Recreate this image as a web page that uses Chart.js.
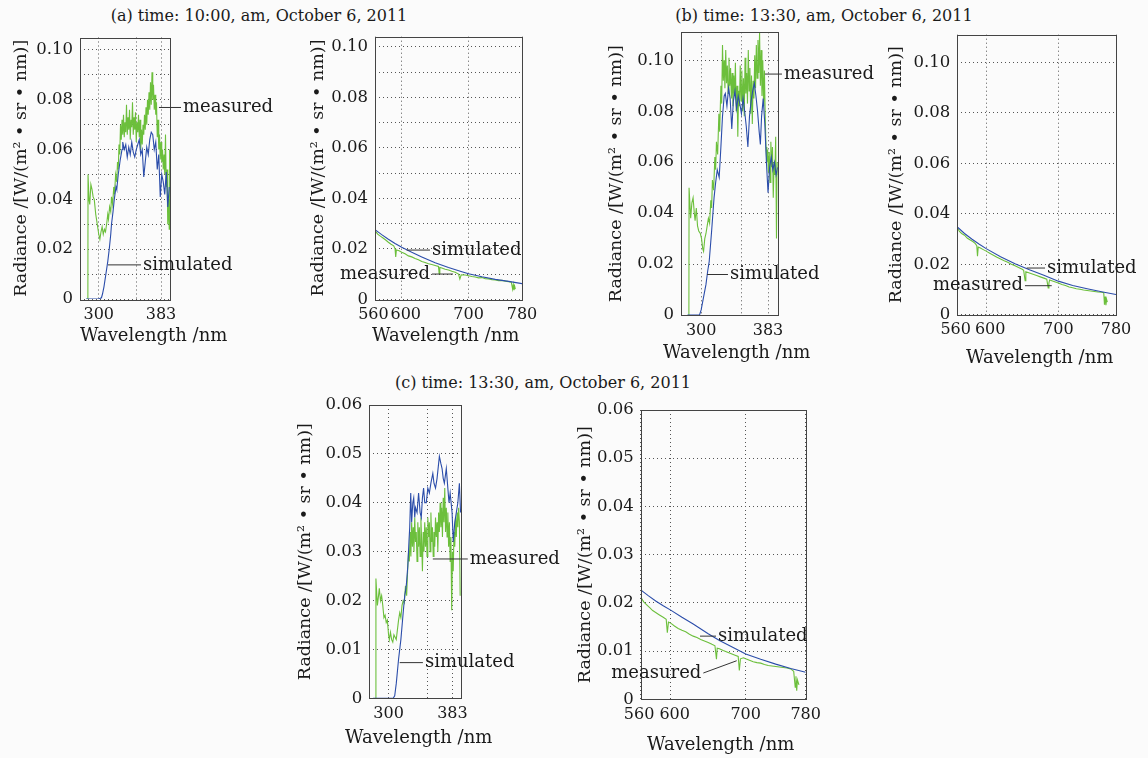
<!DOCTYPE html>
<html>
<head>
<meta charset="utf-8">
<script src="https://cdn.jsdelivr.net/npm/chart.js@4.4.0/dist/chart.umd.min.js"></script>
<style>
  body { margin: 0; width: 1148px; height: 758px; position: relative; overflow: hidden; background: #fbfbfb; font-family: 'DejaVu Serif', serif; color: #1a1a1a; }
  .title { position: absolute; font-size: 16px; white-space: nowrap; transform: translate(-50%, -50%); }
  canvas { position: absolute; }
</style>
</head>
<body>
<div class="title" style="left:259px;top:15px">(a) time: 10:00, am, October 6, 2011</div>
<div class="title" style="left:824px;top:15px">(b) time: 13:30, am, October 6, 2011</div>
<div class="title" style="left:543px;top:382px">(c) time: 13:30, am, October 6, 2011</div>
<canvas id="aL"></canvas>
<canvas id="aR"></canvas>
<canvas id="bL"></canvas>
<canvas id="bR"></canvas>
<canvas id="cL"></canvas>
<canvas id="cR"></canvas>
<script>
// ---- axes ----
const uvTicks = [300, 350, 383];
const uvTickLabels = ['300', '', '383'];
const visTicks = [560, 600, 700, 780];
const visTickLabels = ['560\u2009', '\u2002600', '700', '780'];
const yTicksA = [0, 0.01, 0.02, 0.03, 0.04, 0.05, 0.06, 0.07, 0.08, 0.09, 0.10];
const yLabelsA = ['0', '', '0.02', '', '0.04', '', '0.06', '', '0.08', '', '0.10'];
const yTicksB = [0, 0.02, 0.04, 0.06, 0.08, 0.10];
const yLabelsB = ['0', '0.02', '0.04', '0.06', '0.08', '0.10'];
const yTicksC = [0, 0.01, 0.02, 0.03, 0.04, 0.05, 0.06];
const yLabelsC = ['0', '0.01', '0.02', '0.03', '0.04', '0.05', '0.06'];

// ---- (a) UV ----
const uvA_measWl = [285.5, 285.7, 287, 288, 289.5, 291, 292.5, 294, 296, 298,
  300, 301.5, 303, 304.5, 306, 307.5, 309, 310.5, 312, 313,
  314.5, 316, 317, 318.5, 320, 321, 322.5, 324, 325, 326,
  327, 328, 329, 330, 331, 332, 333, 334, 335, 336,
  337, 338, 339, 340, 341, 342, 343, 344, 345, 346,
  347, 348, 349, 350, 351, 352, 353, 354, 355, 356,
  357, 358, 359, 360, 361, 362, 363, 364, 365, 366,
  367, 368, 369, 370, 371, 372, 373, 374, 375, 376,
  377, 378, 379, 380, 381, 382, 383, 384, 385, 386,
  387, 388, 389, 390, 391, 392, 393, 394, 394.5];
const uvA_meas = [0, .050, .040, .038, .046, .044, .041, .040, .034, .030,
  .026, .024, .027, .029, .026, .028, .027, .030, .034, .032,
  .037, .035, .041, .038, .045, .042, .050, .047, .055, .052,
  .062, .058, .070, .064, .072, .066, .074, .065, .071, .067,
  .078, .066, .073, .068, .076, .064, .072, .069, .079, .066,
  .073, .068, .075, .063, .071, .067, .074, .065, .072, .060,
  .068, .062, .070, .066, .074, .068, .077, .070, .080, .074,
  .083, .076, .087, .078, .091, .080, .086, .076, .082, .074,
  .079, .065, .072, .060, .066, .056, .063, .055, .060, .052,
  .058, .050, .066, .045, .052, .030, .040, .028, .060];
const uvA_simWl = [283, 300, 303.6, 305, 307, 309.5, 312, 314, 316, 317,
  319, 320.7, 323, 324, 326, 328.7, 331, 332, 334, 336,
  338, 340, 342, 344, 346, 348, 350, 352, 354, 356,
  358, 360, 362, 364, 366, 368, 370, 372, 374, 376,
  378, 380, 382, 384, 386, 388, 390, 392, 394];
const uvA_sim = [0, 0, .0005, .002, .005, .010, .015, .020, .026, .030,
  .035, .040, .045, .044, .050, .056, .060, .063, .060, .062,
  .057, .061, .058, .063, .059, .057, .060, .062, .064, .058,
  .060, .049, .055, .061, .058, .064, .067, .066, .060, .063,
  .052, .058, .041, .050, .047, .042, .051, .037, .045];

// ---- (a) VIS ----
const visA_simWl = [560, 570, 580, 590, 600, 615, 630, 650, 670, 690, 700, 720, 740, 760, 780];
const visA_sim = [.0276, .0256, .0238, .0221, .0206, .0186, .0168, .0145, .0126, .0109, .0101, .0089, .0079, .0071, .0062];
const visA_measWl = [560, 564, 568, 572, 576, 580, 584, 588, 590, 591, 592, 596, 600, 605, 610, 615, 620, 625, 630, 635,
  640, 645, 650, 655, 656, 657, 660, 665, 670, 675, 680, 685, 687, 689, 695, 700, 705, 710, 715, 720,
  725, 730, 735, 740, 745, 750, 755, 760, 764, 766, 767, 768, 769, 770];
const visA_meas = [.0272, .0258, .0250, .0243, .0235, .0226, .0218, .0212, .0200, .0168, .0195, .0192, .0186, .0180, .0172, .0168, .0162, .0157, .0150, .0146,
  .0141, .0138, .0134, .0130, .0102, .0126, .0124, .0119, .0116, .0111, .0107, .0100, .0080, .0097, .0096, .0093, .0090, .0088, .0085, .0086,
  .0082, .0081, .0078, .0077, .0074, .0075, .0072, .0070, .0068, .0040, .0058, .0036, .0052, .0040];

// ---- (b) UV ----
const uvB_measWl = [284.8, 285, 287, 288.5, 290, 291.5, 292.5, 294, 295.5, 297,
  299, 300.5, 302, 303, 304.5, 306, 307.5, 309, 310.5, 312,
  313, 314, 315.5, 317, 318, 319, 320.5, 322, 323, 324.5,
  325.5, 326.5, 327.5, 328.5, 329.5, 330.5, 331.5, 332.5, 333.5, 334.5,
  335.5, 336.5, 337.5, 338.5, 339.5, 340.5, 341.5, 342.5, 343.5, 344.5,
  345.5, 346.5, 347.5, 348.5, 349.5, 350.5, 351.5, 352.5, 353.5, 354.5,
  355.5, 356.5, 357.5, 358.5, 359.5, 360.5, 361.5, 362.5, 363.5, 364.5,
  365.5, 366.5, 367.5, 368.5, 369.5, 370.5, 371.5, 372.5, 373.5, 374.5,
  375.5, 376.5, 377.5, 378.5, 379.5, 380.5, 381.5, 382.5, 383.5, 384.5,
  385.5, 386.5, 387.5, 388.5, 389.5, 390.5, 391.5, 392.5, 393.5, 394.5, 395.5];
const uvB_meas = [0, .050, .038, .044, .046, .040, .037, .042, .035, .033,
  .032, .030, .026, .025, .030, .032, .035, .038, .036, .045,
  .042, .053, .049, .062, .057, .068, .063, .079, .072, .090,
  .083, .106, .092, .100, .089, .104, .091, .098, .087, .101,
  .090, .097, .085, .095, .082, .094, .086, .099, .080, .090,
  .070, .088, .082, .098, .084, .096, .080, .093, .078, .101,
  .087, .095, .083, .104, .088, .097, .079, .094, .075, .092,
  .085, .102, .089, .106, .093, .108, .095, .111, .090, .104,
  .086, .100, .082, .096, .078, .066, .060, .065, .056, .064,
  .052, .068, .058, .066, .046, .060, .055, .070, .030, .060, .055];
const uvB_simWl = [283, 298, 300, 303, 306, 308, 310, 313, 316, 318,
  320, 322.4, 324.5, 326.5, 328.6, 330, 332, 334, 336, 338,
  340, 342, 344, 346, 348, 350, 352, 354, 356, 358,
  360, 362, 364, 366, 368, 370, 372, 373.5, 375, 377,
  379, 381, 383, 385, 387, 389, 391, 393, 395];
const uvB_sim = [0, 0, .002, .007, .012, .017, .021, .033, .046, .052,
  .057, .054, .066, .078, .086, .087, .082, .089, .085, .073,
  .084, .088, .081, .086, .083, .079, .085, .080, .074, .066,
  .078, .084, .088, .091, .086, .080, .072, .067, .078, .085,
  .075, .060, .048, .058, .062, .057, .060, .055, .058];

// ---- (b) VIS ----
const visB_simWl = [560, 570, 580, 590, 600, 620, 640, 660, 680, 700, 720, 740, 760, 780];
const visB_sim = [.0348, .0322, .0300, .0280, .0262, .0230, .0202, .0178, .0156, .0133, .0116, .0103, .0091, .0080];
const visB_measWl = [560, 563, 566, 570, 574, 578, 582, 585, 587, 588, 589, 592, 596, 600, 605, 610, 615, 620, 625, 630,
  635, 640, 645, 650, 652, 654, 655, 660, 665, 670, 675, 680, 684, 686, 687, 688, 692, 696, 700, 705,
  710, 715, 720, 725, 730, 735, 740, 745, 750, 755, 760, 763, 764, 765, 766, 767, 768];
const visB_meas = [.0345, .0330, .0322, .0315, .0303, .0296, .0289, .0282, .0274, .0232, .0268, .0264, .0258, .0252, .0244, .0236, .0228, .0221, .0214, .0208,
  .0200, .0194, .0187, .0180, .0176, .0135, .0170, .0165, .0160, .0155, .0150, .0145, .0141, .0106, .0125, .0138, .0134, .0130, .0126, .0120,
  .0116, .0110, .0107, .0103, .0101, .0098, .0096, .0094, .0092, .0090, .0089, .0087, .0040, .0072, .0038, .0060, .0050];

// ---- (c) UV ----
const uvC_measWl = [283.4, 283.6, 285.5, 287, 288, 289.5, 291, 292.5, 294, 295.5,
  297, 298.5, 300, 301, 302.5, 304, 305.5, 307, 308.5, 310,
  311.5, 313, 314.5, 316, 317.5, 319, 320.5, 322, 323.5, 325,
  326, 327, 328, 329, 330, 331, 332, 333, 334, 335,
  336, 337, 338, 339, 340, 341, 342, 343, 344, 345,
  346, 347, 348, 349, 350, 351, 352, 353, 354, 355,
  356, 357, 358, 359, 360, 361, 362, 363, 364, 365,
  366, 367, 368, 369, 370, 371, 372, 373, 374, 375,
  376, 377, 378, 379, 380, 381, 382, 383, 384, 385,
  386, 387, 388, 389, 390, 391, 392, 393];
const uvC_meas = [0, .0245, .019, .021, .0225, .020, .021, .019, .0165, .017,
  .0155, .016, .013, .012, .0135, .012, .0115, .013, .0125, .012,
  .014, .016, .0175, .0165, .019, .020, .0195, .023, .021, .027,
  .030, .028, .034, .029, .036, .031, .035, .030, .037, .032,
  .034, .028, .036, .031, .035, .029, .037, .032, .026, .034,
  .030, .036, .031, .035, .029, .037, .033, .036, .030, .038,
  .032, .035, .029, .034, .031, .037, .033, .036, .030, .038,
  .034, .040, .035, .039, .033, .041, .036, .043, .034, .039,
  .033, .038, .031, .036, .028, .033, .018, .030, .026, .034,
  .031, .037, .033, .038, .035, .039, .036, .021];
const uvC_simWl = [280, 306, 308, 310, 313, 316, 319, 321, 323, 325,
  326.5, 327.5, 328.8, 330, 331.5, 332.7, 334, 335, 337, 339,
  341, 342.5, 344, 345.5, 347, 349, 351, 353, 355, 357.5,
  359, 361, 363, 366, 368, 369.5, 371, 372.5, 375, 377,
  378.5, 380, 382.5, 384, 386, 388, 390, 392, 393.5];
const uvC_sim = [0, 0, .0005, .003, .008, .012, .0175, .021, .023, .027,
  .032, .035, .042, .036, .040, .041, .037, .039, .038, .042,
  .038, .037, .041, .043, .040, .040, .043, .042, .044, .046,
  .044, .043, .045, .0495, .048, .047, .045, .044, .047, .043,
  .040, .042, .038, .032, .036, .038, .040, .044, .038];

// ---- (c) VIS ----
const visC_simWl = [560, 570, 580, 590, 600, 615, 630, 650, 665, 680, 700, 720, 740, 760, 780];
const visC_sim = [.0227, .0215, .0204, .0194, .0185, .0170, .0156, .0136, .0122, .0110, .0094, .0083, .0073, .0064, .0056];
const visC_measWl = [560, 564, 568, 572, 576, 580, 585, 590, 594, 595.5, 597, 600, 605, 610, 615, 620, 625, 630, 635, 640,
  645, 650, 655, 659, 661, 662, 665, 670, 675, 680, 685, 690, 691.5, 693, 697, 700, 705, 710, 715, 720,
  725, 730, 735, 740, 745, 750, 755, 760, 764, 766, 767, 768, 769, 771];
const visC_meas = [.0212, .0202, .0196, .0190, .0184, .0180, .0175, .0170, .0166, .0138, .0160, .0158, .0152, .0147, .0143, .0140, .0135, .0131, .0128, .0124,
  .0121, .0118, .0114, .0111, .0083, .0106, .0105, .0101, .0098, .0095, .0092, .0089, .0060, .0084, .0086, .0084, .0081, .0078, .0076, .0075,
  .0072, .0070, .0069, .0068, .0067, .0066, .0065, .0063, .0058, .0025, .0048, .0018, .0040, .0030];

const GREEN = '#6cbf3c';
const BLUE = '#2b4daa';
const FONT = 'DejaVu Serif';
const INK = '#1a1a1a';
const Y_TITLE = 'Radiance /[W/(m\u00b2 \u2022 sr \u2022 nm)]';
const X_TITLE = 'Wavelength /nm';

const pts = (xs, ys) => xs.map((x, i) => ({ x, y: ys[i] }));

const frame = {
  id: 'frame',
  afterDatasetsDraw(chart) {
    const { ctx, chartArea: a } = chart;
    ctx.save();
    ctx.strokeStyle = '#444';
    ctx.lineWidth = 1;
    ctx.strokeRect(Math.round(a.left) + 0.5, Math.round(a.top) + 0.5,
      Math.round(a.right - a.left), Math.round(a.bottom - a.top));
    ctx.restore();
  }
};

// x-axis caption, left-aligned at a given page position (the narrow UV axes would squash it)
function xCaption(pageX, pageY, left, top) {
  return {
    id: 'xCaption',
    afterDraw(chart) {
      const ctx = chart.ctx;
      ctx.save();
      ctx.font = '18px "' + FONT + '"';
      ctx.fillStyle = INK;
      ctx.textAlign = 'left';
      ctx.textBaseline = 'middle';
      ctx.fillText(X_TITLE, pageX - left, pageY - top);
      ctx.restore();
    }
  };
}

// leader line from a point on the curve to its label
function leaders(items) {
  return {
    id: 'leaders',
    afterDraw(chart) {
      const { ctx, scales: { x, y } } = chart;
      ctx.save();
      ctx.font = '18px "' + FONT + '"';
      ctx.fillStyle = INK;
      ctx.strokeStyle = '#333';
      ctx.lineWidth = 1;
      ctx.textBaseline = 'middle';
      items.forEach(it => {
        const x1 = x.getPixelForValue(it.from[0]), y1 = y.getPixelForValue(it.from[1]);
        const x2 = x.getPixelForValue(it.to[0]), y2 = y.getPixelForValue(it.to[1]);
        ctx.beginPath();
        ctx.moveTo(x1, y1);
        ctx.lineTo(x2, y2);
        ctx.stroke();
        const right = x2 >= x1;
        ctx.textAlign = right ? 'left' : 'right';
        ctx.fillText(it.text, x2 + (right ? 2 : -2), y2);
      });
      ctx.restore();
    }
  };
}

function makePanel(id, cfg) {
  const c = document.getElementById(id);
  const p = cfg.plot;
  const L = Math.round(cfg.titleX - 10.5);
  const T = Math.round(p.t - 32);
  const R = Math.min(Math.round(p.r + 120), 1148);
  const B = Math.round(cfg.xTitle[1] + 12);
  c.style.left = L + 'px';
  c.style.top = T + 'px';
  c.width = R - L;
  c.height = B - T;
  const uv = cfg.kind === 'uv';
  const xTicks = uv ? uvTicks : visTicks;
  const xLabels = uv ? uvTickLabels : visTickLabels;
  const grid = { color: '#555', lineWidth: 1, drawTicks: false };
  const border = { display: false, dash: [1, 3] };

  new Chart(c, {
    type: 'line',
    data: {
      datasets: [
        { data: pts(cfg.simWl, cfg.sim), borderColor: BLUE, borderWidth: 1.1 },
        { data: pts(cfg.measWl, cfg.meas), borderColor: GREEN, borderWidth: 1.1 }
      ]
    },
    options: {
      responsive: false,
      animation: false,
      events: [],
      elements: { point: { radius: 0 }, line: { tension: 0, fill: false } },
      layout: { padding: { left: 0, top: p.t - T, right: R - p.r, bottom: 0 } },
      plugins: { legend: { display: false }, tooltip: { enabled: false } },
      scales: {
        x: {
          type: 'linear',
          min: uv ? 275 : 560,
          max: uv ? 395 : 780,
          afterBuildTicks: s => { s.ticks = xTicks.map(v => ({ value: v })); },
          afterFit: s => { s.height = B - p.b; },
          ticks: { autoSkip: false, maxRotation: 0, padding: 6, color: INK, font: { family: FONT, size: 16 },
            callback: (v, i) => xLabels[i] },
          grid, border
        },
        y: {
          min: 0,
          max: cfg.yMax,
          afterBuildTicks: s => { s.ticks = cfg.yTicks.map(v => ({ value: v })); },
          afterFit: s => { s.width = p.l - L; },
          ticks: { autoSkip: false, padding: 7, color: INK, font: { family: FONT, size: 16.5 },
            callback: (v, i) => cfg.yLabels[i] },
          grid, border,
          title: { display: true, text: Y_TITLE, color: INK, padding: 0, font: { family: FONT, size: 17.5 } }
        }
      }
    },
    plugins: [frame, leaders(cfg.leaders), xCaption(cfg.xTitle[0], cfg.xTitle[1], L, T)]
  });
}

makePanel('aL', {
  kind: 'uv', plot: { l: 80, t: 37.5, r: 170, b: 299 }, yMax: 0.105, yTicks: yTicksA, yLabels: yLabelsA,
  titleX: 21, xTitle: [80, 336],
  measWl: uvA_measWl, meas: uvA_meas, simWl: uvA_simWl, sim: uvA_sim,
  leaders: [
    { text: 'measured', from: [380.3, 0.0769], to: [409.7, 0.0769] },
    { text: 'simulated', from: [312.3, 0.0137], to: [356.3, 0.0137] }
  ]
});
makePanel('aR', {
  kind: 'vis', plot: { l: 375, t: 36.7, r: 522, b: 299.3 }, yMax: 0.104, yTicks: yTicksA, yLabels: yLabelsA,
  titleX: 318, xTitle: [372, 336],
  measWl: visA_measWl, meas: visA_meas, simWl: visA_simWl, sim: visA_sim,
  leaders: [
    { text: 'simulated', from: [607.4, 0.0195], to: [642.3, 0.0195] },
    { text: 'measured', from: [676.7, 0.0100], to: [645.3, 0.0100] }
  ]
});
makePanel('bL', {
  kind: 'uv', plot: { l: 681, t: 32.3, r: 777.7, b: 315 }, yMax: 0.111, yTicks: yTicksB, yLabels: yLabelsB,
  titleX: 616, xTitle: [663, 353],
  measWl: uvB_measWl, meas: uvB_meas, simWl: uvB_simWl, sim: uvB_sim,
  leaders: [
    { text: 'measured', from: [379.2, 0.0946], to: [400.3, 0.0946] },
    { text: 'simulated', from: [307.3, 0.0159], to: [333.3, 0.0159] }
  ]
});
makePanel('bR', {
  kind: 'vis', plot: { l: 957.3, t: 34.7, r: 1116, b: 314.7 }, yMax: 0.111, yTicks: yTicksB, yLabels: yLabelsB,
  titleX: 896, xTitle: [966, 358],
  measWl: visB_measWl, meas: visB_meas, simWl: visB_simWl, sim: visB_sim,
  leaders: [
    { text: 'simulated', from: [656.2, 0.0185], to: [681.6, 0.0185] },
    { text: 'measured', from: [690.9, 0.0115], to: [653.8, 0.0115] }
  ]
});
makePanel('cL', {
  kind: 'uv', plot: { l: 369.3, t: 405, r: 461.7, b: 698.3 }, yMax: 0.06, yTicks: yTicksC, yLabels: yLabelsC,
  titleX: 305, xTitle: [345, 738],
  measWl: uvC_measWl, meas: uvC_meas, simWl: uvC_simWl, sim: uvC_sim,
  leaders: [
    { text: 'measured', from: [357.5, 0.0285], to: [402.9, 0.0285] },
    { text: 'simulated', from: [314.5, 0.0073], to: [344.6, 0.0073] }
  ]
});
makePanel('cR', {
  kind: 'vis', plot: { l: 640.7, t: 410, r: 805.7, b: 699.3 }, yMax: 0.06, yTicks: yTicksC, yLabels: yLabelsC,
  titleX: 585, xTitle: [647, 745],
  measWl: visC_measWl, meas: visC_meas, simWl: visC_simWl, sim: visC_sim,
  leaders: [
    { text: 'simulated', from: [639.1, 0.0131], to: [660.4, 0.0131] },
    { text: 'measured', from: [688, 0.0080], to: [643.5, 0.00545] }
  ]
});
</script>
</body>
</html>
